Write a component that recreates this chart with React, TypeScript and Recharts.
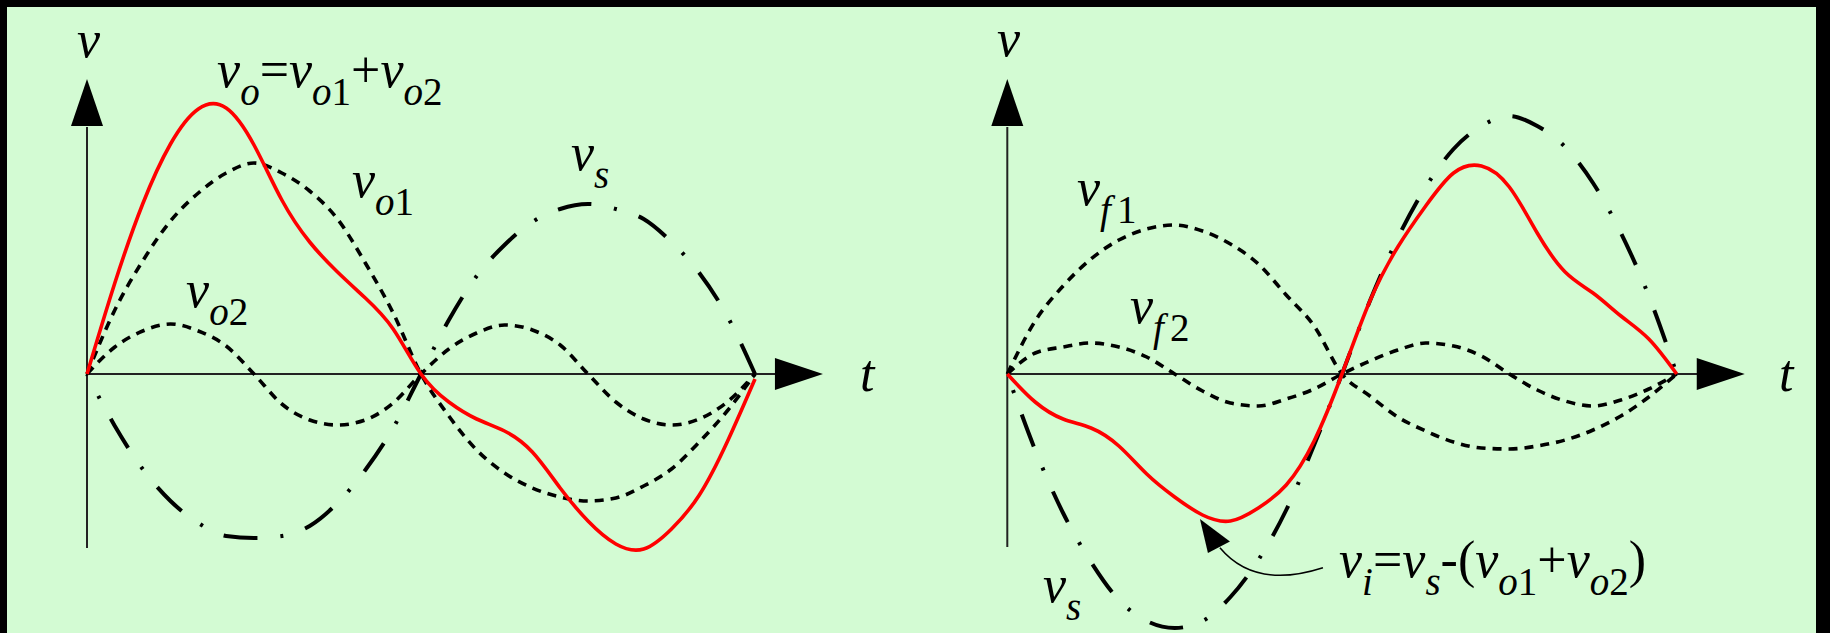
import React from "react";
import { LineChart, Line, XAxis, YAxis, ReferenceLine, ReferenceDot } from "recharts";

// Phase angle over one period of the supply, in degrees.
const phase = [0, 15, 30, 45, 60, 75, 90, 105, 120, 135, 150, 165, 180, 195, 210, 225, 240, 255, 270, 285, 300, 315, 330, 345, 360];

// Left panel: source voltage and the two output components.
const vsLeft = [0, -52, -95, -127, -149, -162, -164, -162, -152, -129, -96, -54, 0, 54, 98, 129, 152, 165, 170, 165, 155, 132, 101, 58, 0];
const vo1Left = [0, 64, 113, 153, 181, 201, 211, 201, 183, 155, 111, 61, 0, -42, -76, -99, -114, -123, -127, -124, -112, -95, -68, -37, 0];
const vo2Left = [0, 27, 43, 50, 43, 28, 0, -30, -46, -51, -46, -29, 0, 25, 41, 49, 44, 29, 0, -28, -45, -51, -45, -28, 0];
const voLeft = [0, 91, 170, 230, 265, 266, 229, 174, 132, 102, 76, 45, 0, -28, -45, -57, -78, -114, -147, -170, -175, -155, -121, -68, -5];

// Right panel: source voltage, feedback components and the resulting input voltage.
const vsRight = [0, -76, -139, -188, -226, -247, -254, -247, -223, -186, -136, -71, 0, 73, 136, 187, 225, 248, 258, 248, 227, 191, 141, 78, 0];
const vf1Right = [0, 53, 88, 115, 134, 145, 149, 143, 130, 110, 79, 48, 0, -22, -43, -57, -68, -74, -75, -72, -66, -56, -42, -23, 0];
const vf2Right = [0, 21, 27, 31, 27, 17, 0, -17, -29, -32, -25, -15, 0, 13, 24, 31, 28, 18, 0, -16, -27, -32, -26, -15, 0];
const viRight = [0, -28, -45, -54, -72, -100, -123, -141, -147, -134, -111, -67, 0, 73, 127, 168, 201, 208, 187, 141, 102, 81, 58, 35, 0];

const leftRows = phase.map((t, i) => ({ t, vs: vsLeft[i], vo1: vo1Left[i], vo2: vo2Left[i], vo: voLeft[i] }));
const rightRows = phase.map((t, i) => ({ t, vs: vsRight[i], vf1: vf1Right[i], vf2: vf2Right[i], vi: viRight[i] }));

// Frame and panel geometry
const FRAME_W = 1830;
const FRAME_H = 633;
const BASELINE_Y = 374;
const V_DOMAIN: [number, number] = [BASELINE_Y - FRAME_H, BASELINE_Y];

const LEFT_PANEL = { left: 0, width: 915, originX: 87, periodPx: 668 };
const RIGHT_PANEL = { left: 915, width: 915, originX: 1007.3, periodPx: 669.4 };

function phaseDomain(p: { left: number; width: number; originX: number; periodPx: number }): [number, number] {
  const k = 360 / p.periodPx;
  return [(p.left - p.originX) * k, (p.left + p.width - p.originX) * k];
}

const SERIF = "Liberation Serif";
const MAIN_SIZE = 52;
const SUB_SIZE = 39;
const SUB_DY = 18;
const GREEN = "#d3fbd3";
const RED = "#ff0000";

const dotted = { stroke: "#000", strokeWidth: 3.6, strokeDasharray: "9 7" };
const dashDot = { stroke: "#000", strokeWidth: 4, strokeDasharray: "34 23 3 23" };
const axisStroke = { stroke: "#222", strokeWidth: 2 };

type Tok = { s: string; i?: boolean; sub?: boolean; dx?: number };

function renderTokens(tokens: Tok[]) {
  let level = 0;
  return tokens.map((tk, k) => {
    const target = tk.sub ? 1 : 0;
    const dy = target === level ? undefined : target === 1 ? SUB_DY : -SUB_DY;
    level = target;
    return (
      <tspan
        key={k}
        dy={dy}
        dx={tk.dx}
        fontFamily={SERIF}
        fontSize={tk.sub ? SUB_SIZE : MAIN_SIZE}
        fontStyle={tk.i ? "italic" : "normal"}
      >
        {tk.s}
      </tspan>
    );
  });
}

const v: Tok = { s: "v", i: true };
const sub = (s: string, italic = true, dx?: number): Tok => ({ s, i: italic, sub: true, dx });
const op = (s: string): Tok => ({ s });

const leftLabels: { t: number; v: number; tokens: Tok[] }[] = [
  { t: -5.4, v: 317, tokens: [v] },
  { t: 70.1, v: 287, tokens: [v, sub("o"), op("="), v, sub("o"), sub("1", false), op("+"), v, sub("o"), sub("2", false)] },
  { t: 142.8, v: 177, tokens: [v, sub("o"), sub("1", false)] },
  { t: 53.4, v: 67, tokens: [v, sub("o"), sub("2", false)] },
  { t: 260.8, v: 204, tokens: [v, sub("s")] },
  { t: 416.6, v: -17, tokens: [{ s: "t", i: true }] },
];

const rightLabels: { t: number; v: number; tokens: Tok[] }[] = [
  { t: -5.5, v: 318, tokens: [v] },
  { t: 37.5, v: 169, tokens: [v, sub("f"), sub("1", false, 6)] },
  { t: 66, v: 51, tokens: [v, sub("f"), sub("2", false, 6)] },
  { t: 19.2, v: -228, tokens: [v, sub("s")] },
  {
    t: 178.4,
    v: -203,
    tokens: [v, sub("i"), op("="), v, sub("s"), op("-("), v, sub("o"), sub("1", false), op("+"), v, sub("o"), sub("2", false), op(")")],
  },
  { t: 415, v: -17, tokens: [{ s: "t", i: true }] },
];

const makeText = (tokens: Tok[]) => (props: any) => (
  <text x={props.cx} y={props.cy} fill="#000" fontFamily={SERIF} fontSize={MAIN_SIZE}>
    {renderTokens(tokens)}
  </text>
);

const XArrow = (props: any) => {
  const { cx, cy } = props;
  return <polygon points={`${cx},${cy} ${cx - 48},${cy - 16} ${cx - 48},${cy + 16}`} fill="#000" />;
};
const YArrow = (props: any) => {
  const { cx, cy } = props;
  return <polygon points={`${cx},${cy} ${cx - 16},${cy + 47} ${cx + 16},${cy + 47}`} fill="#000" />;
};
const Pointer = (props: any) => {
  const { cx, cy } = props;
  return (
    <g>
      <path d={`M${cx + 20},${cy + 28.7} Q${cx + 55},${cy + 70.7} ${cx + 123},${cy + 48.7}`} fill="none" stroke="#000" strokeWidth={1.5} />
      <polygon points={`${cx},${cy} ${cx + 8},${cy + 34} ${cx + 30},${cy + 22.4}`} fill="#000" />
    </g>
  );
};

const AXIS_END_T = 371;
const ARROW_TIP_T = 396.6;
const Y_TIP_V = 295;
const Y_BASE_V = 247;

function axes(bottomV: number) {
  return [
    <ReferenceLine key="ax" segment={[{ x: 0, y: 0 }, { x: AXIS_END_T, y: 0 }]} ifOverflow="visible" {...axisStroke} />,
    <ReferenceLine key="ay" segment={[{ x: 0, y: bottomV }, { x: 0, y: Y_BASE_V }]} ifOverflow="visible" {...axisStroke} />,
    <ReferenceDot key="xa" x={ARROW_TIP_T} y={0} r={0} ifOverflow="visible" shape={XArrow} />,
    <ReferenceDot key="ya" x={0} y={Y_TIP_V} r={0} ifOverflow="visible" shape={YArrow} />,
  ];
}

function labels(list: { t: number; v: number; tokens: Tok[] }[]) {
  return list.map((l, k) => (
    <ReferenceDot key={`lb${k}`} x={l.t} y={l.v} r={0} ifOverflow="visible" shape={makeText(l.tokens)} />
  ));
}

const chartMargin = { top: 0, right: 0, bottom: 0, left: 0 };
const noDots = { dot: false, activeDot: false, isAnimationActive: false } as const;

export default function App() {
  return (
    <div style={{ position: "absolute", left: 0, top: 0, width: FRAME_W, height: FRAME_H, background: "#000", overflow: "hidden" }}>
      <div style={{ position: "absolute", left: 7, top: 7, width: FRAME_W - 7 - 14, height: FRAME_H - 7, background: GREEN }} />

      <div style={{ position: "absolute", left: LEFT_PANEL.left, top: 0 }}>
        <LineChart width={LEFT_PANEL.width} height={FRAME_H} data={leftRows} margin={chartMargin}>
          <XAxis type="number" dataKey="t" domain={phaseDomain(LEFT_PANEL)} hide />
          <YAxis type="number" domain={V_DOMAIN} hide />
          {axes(-174)}
          <Line dataKey="vo1" type="monotone" {...noDots} {...dotted} />
          <Line dataKey="vo2" type="monotone" {...noDots} {...dotted} />
          <Line dataKey="vs" type="monotone" {...noDots} {...dashDot} strokeDashoffset={32.5} />
          <Line dataKey="vo" type="natural" {...noDots} stroke={RED} strokeWidth={3.6} />
          {labels(leftLabels)}
        </LineChart>
      </div>

      <div style={{ position: "absolute", left: RIGHT_PANEL.left, top: 0 }}>
        <LineChart width={RIGHT_PANEL.width} height={FRAME_H} data={rightRows} margin={chartMargin}>
          <XAxis type="number" dataKey="t" domain={phaseDomain(RIGHT_PANEL)} hide />
          <YAxis type="number" domain={V_DOMAIN} hide />
          {axes(-173)}
          <Line dataKey="vf1" type="monotone" {...noDots} {...dotted} />
          <Line dataKey="vf2" type="monotone" {...noDots} {...dotted} />
          <Line dataKey="vs" type="monotone" {...noDots} {...dashDot} strokeDashoffset={40} />
          <Line dataKey="vi" type="natural" {...noDots} stroke={RED} strokeWidth={3.6} />
          {labels(rightLabels)}
          <ReferenceDot x={103.6} y={-145} r={0} ifOverflow="visible" shape={Pointer} />
        </LineChart>
      </div>
    </div>
  );
}
